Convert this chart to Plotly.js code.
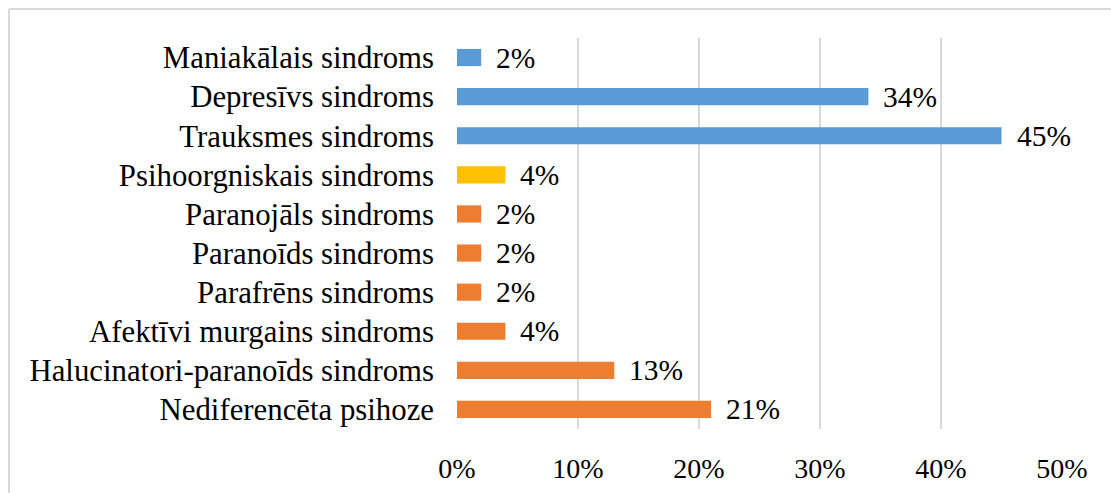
<!DOCTYPE html>
<html>
<head>
<meta charset="utf-8">
<script src="https://cdn.plot.ly/plotly-3.0.1.min.js"></script>
<style>html,body{margin:0;padding:0;background:#fff;}#chart{width:1111px;height:493px;}</style>
</head>
<body>
<div id="chart"></div>
<script>
const categories = [
  "Maniakālais sindroms",
  "Depresīvs sindroms",
  "Trauksmes sindroms",
  "Psihoorgniskais sindroms",
  "Paranojāls sindroms",
  "Paranoīds sindroms",
  "Parafrēns sindroms",
  "Afektīvi murgains sindroms",
  "Halucinatori-paranoīds sindroms",
  "Nediferencēta psihoze"
];
const values = [0.02, 0.34, 0.45, 0.04, 0.02, 0.02, 0.02, 0.04, 0.13, 0.21];
const groups = ["afekt", "afekt", "afekt", "org", "psih", "psih", "psih", "psih", "psih", "psih"];
const valueLabels = ["2%", "34%", "45%", "4%", "2%", "2%", "2%", "4%", "13%", "21%"];
const tickValues = [0, 0.1, 0.2, 0.3, 0.4, 0.5];
const tickLabels = ["0%", "10%", "20%", "30%", "40%", "50%"];

const groupColors = {afekt: "#5B9BD5", org: "#FFC000", psih: "#ED7D31"};
const fam = "Liberation Serif, Times New Roman, serif";
const tickFont = {family: fam, size: 28, color: "#000"};
const catFont = {family: fam, size: 30.8, color: "#000"};
const valFont = {family: fam, size: 29.5, color: "#000"};

const W = 1111, H = 493;
const m = {l: 457, r: 49, t: 38, b: 64};
const pw = W - m.l - m.r, ph = H - m.t - m.b;
const px = x => (x - m.l) / pw;
const py = y => 1 - (y - m.t) / ph;

const trace = {
  type: "bar",
  orientation: "h",
  x: values,
  y: categories,
  marker: {color: groups.map(g => groupColors[g])},
  hoverinfo: "x+y",
  cliponaxis: false
};

const annotations = values.map((v, i) => ({
  x: v, y: categories[i], xref: "x", yref: "y",
  text: valueLabels[i], showarrow: false,
  xanchor: "left", yanchor: "middle", xshift: 13,
  font: valFont
}));

const layout = {
  width: W, height: H,
  margin: m,
  paper_bgcolor: "#fff", plot_bgcolor: "#fff",
  showlegend: false,
  bargap: 0.56,
  font: tickFont,
  xaxis: {
    range: [0, 0.5],
    tickvals: tickValues,
    ticktext: tickLabels,
    showgrid: true, gridcolor: "#d9d9d9", gridwidth: 1.5,
    zeroline: false, showline: false,
    ticks: "", ticklabelstandoff: 20,
    tickfont: tickFont, fixedrange: true
  },
  yaxis: {
    type: "category",
    autorange: "reversed",
    showgrid: false, zeroline: false, showline: false,
    ticks: "", ticklabelstandoff: 22,
    tickfont: catFont, fixedrange: true
  },
  annotations: annotations,
  shapes: [
    {type: "line", xref: "paper", yref: "paper", x0: px(9), x1: px(1115), y0: py(9), y1: py(9), line: {color: "#d9d9d9", width: 2}},
    {type: "line", xref: "paper", yref: "paper", x0: px(9), x1: px(9), y0: py(9), y1: py(500), line: {color: "#d9d9d9", width: 2}}
  ]
};

Plotly.newPlot("chart", [trace], layout, {displayModeBar: false, staticPlot: true});
</script>
</body>
</html>
